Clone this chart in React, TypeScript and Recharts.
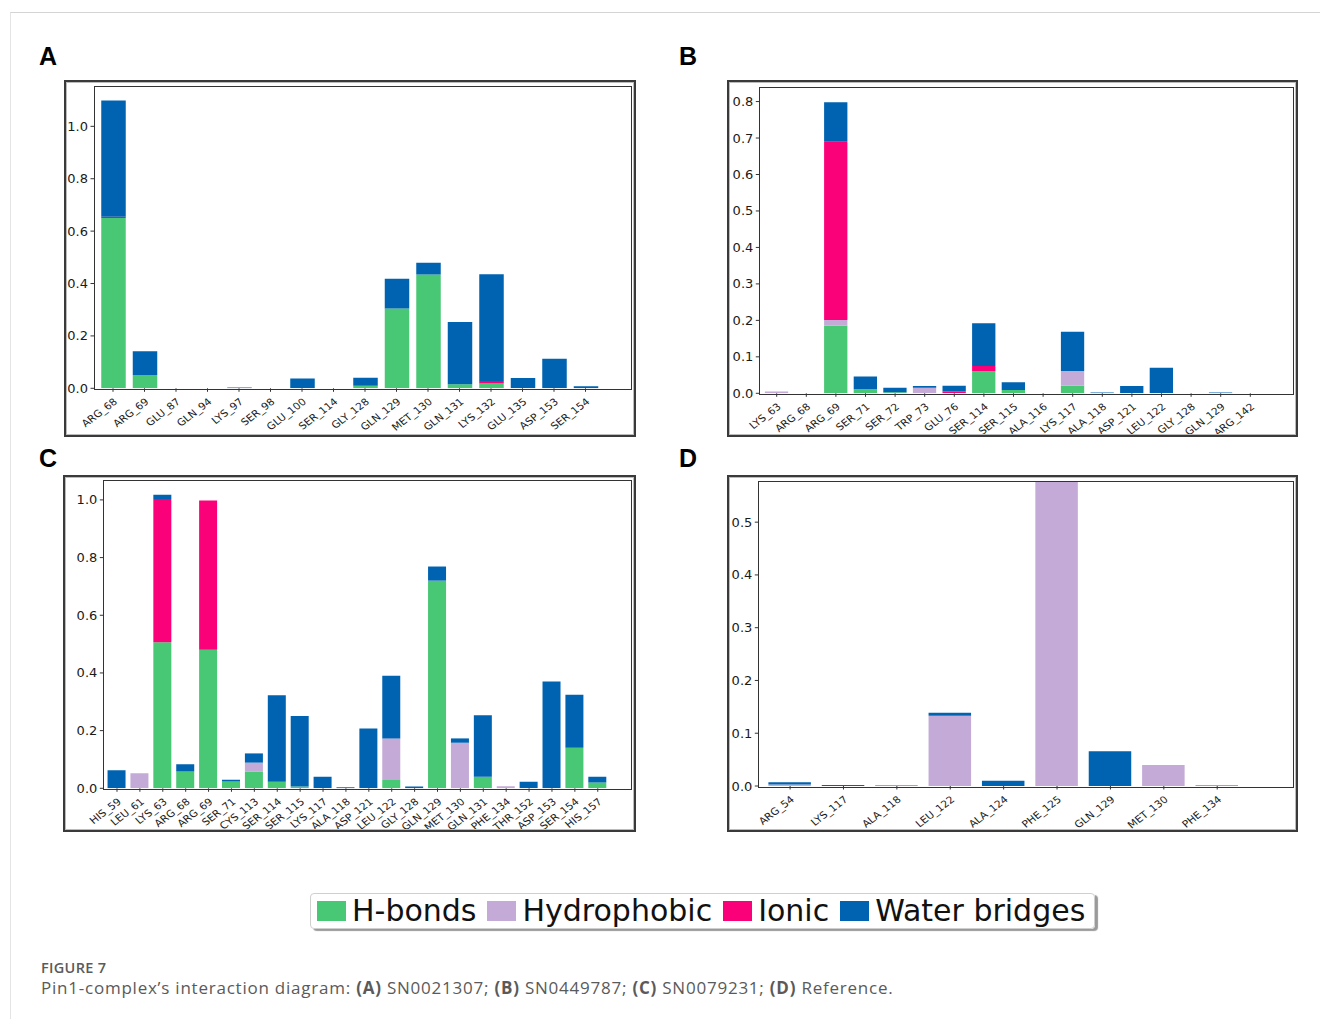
import { Bar, BarChart, XAxis, YAxis } from 'recharts'

const GREEN = '#48C774'
const LAVENDER = '#C4AAD6'
const PINK = '#FA0079'
const BLUE = '#0063B1'

// Panel A: SN0021307
const aLabels = ['ARG_68', 'ARG_69', 'GLU_87', 'GLN_94', 'LYS_97', 'SER_98', 'GLU_100', 'SER_114', 'GLY_128', 'GLN_129', 'MET_130', 'GLN_131', 'LYS_132', 'GLU_135', 'ASP_153', 'SER_154']
const aHBonds = [0.65, 0.051, 0, 0, 0, 0, 0, 0, 0.01, 0.305, 0.434, 0.015, 0.018, 0, 0, 0]
const aHydrophobic = [0, 0, 0, 0, 0, 0, 0, 0, 0, 0, 0, 0, 0, 0, 0, 0]
const aIonic = [0.005, 0, 0, 0, 0, 0, 0, 0, 0, 0, 0, 0, 0.01, 0, 0, 0]
const aWater = [0.444, 0.09, 0, 0, 0.003, 0, 0.037, 0, 0.03, 0.113, 0.045, 0.238, 0.407, 0.039, 0.113, 0.008]

// Panel B: SN0449787
const bLabels = ['LYS_63', 'ARG_68', 'ARG_69', 'SER_71', 'SER_72', 'TRP_73', 'GLU_76', 'SER_114', 'SER_115', 'ALA_116', 'LYS_117', 'ALA_118', 'ASP_121', 'LEU_122', 'GLY_128', 'GLN_129', 'ARG_142']
const bHBonds = [0, 0, 0.185, 0.012, 0.003, 0, 0, 0.061, 0.009, 0, 0.021, 0, 0, 0, 0, 0, 0]
const bHydrophobic = [0.005, 0, 0.016, 0, 0, 0.015, 0, 0, 0, 0, 0.04, 0, 0, 0, 0, 0, 0]
const bIonic = [0, 0, 0.489, 0, 0, 0, 0.005, 0.014, 0, 0, 0, 0, 0, 0, 0, 0, 0]
const bWater = [0, 0, 0.108, 0.034, 0.012, 0.005, 0.016, 0.117, 0.021, 0, 0.108, 0.002, 0.02, 0.07, 0, 0.002, 0]

// Panel C: SN0079231
const cLabels = ['HIS_59', 'LEU_61', 'LYS_63', 'ARG_68', 'ARG_69', 'SER_71', 'CYS_113', 'SER_114', 'SER_115', 'LYS_117', 'ALA_118', 'ASP_121', 'LEU_122', 'GLY_128', 'GLN_129', 'MET_130', 'GLN_131', 'PHE_134', 'THR_152', 'ASP_153', 'SER_154', 'HIS_157']
const cHBonds = [0, 0, 0.506, 0.058, 0.48, 0.024, 0.058, 0.023, 0.006, 0, 0, 0, 0.029, 0, 0.72, 0, 0.04, 0, 0, 0, 0.141, 0.02]
const cHydrophobic = [0, 0.052, 0, 0, 0, 0, 0.031, 0, 0, 0, 0, 0, 0.144, 0, 0, 0.158, 0, 0.007, 0, 0, 0, 0]
const cIonic = [0, 0, 0.497, 0, 0.518, 0, 0, 0, 0, 0, 0, 0, 0, 0, 0, 0, 0, 0, 0, 0, 0, 0]
const cWater = [0.063, 0, 0.015, 0.025, 0, 0.006, 0.032, 0.3, 0.245, 0.04, 0.004, 0.207, 0.217, 0.006, 0.049, 0.015, 0.213, 0, 0.023, 0.37, 0.183, 0.02]

// Panel D: Reference
const dLabels = ['ARG_54', 'LYS_117', 'ALA_118', 'LEU_122', 'ALA_124', 'PHE_125', 'GLN_129', 'MET_130', 'PHE_134']
const dHBonds = [0, 0, 0, 0, 0, 0, 0, 0, 0]
const dHydrophobic = [0.003, 0, 0, 0.133, 0, 0.578, 0, 0.04, 0]
const dIonic = [0, 0, 0, 0, 0, 0, 0, 0, 0]
const dWater = [0.004, 0.002, 0.001, 0.006, 0.01, 0, 0.066, 0, 0.001]

const ticksA = [0, 0.2, 0.4, 0.6, 0.8, 1.0]
const ticksB = [0, 0.1, 0.2, 0.3, 0.4, 0.5, 0.6, 0.7, 0.8]
const ticksC = [0, 0.2, 0.4, 0.6, 0.8, 1.0]
const ticksD = [0, 0.1, 0.2, 0.3, 0.4, 0.5]

const legendItems = [
  { name: 'H-bonds', color: GREEN },
  { name: 'Hydrophobic', color: LAVENDER },
  { name: 'Ionic', color: PINK },
  { name: 'Water bridges', color: BLUE },
]

const rows = (labels: string[], h: number[], hy: number[], io: number[], w: number[]) =>
  labels.map((name, i) => ({ name, hbonds: h[i], hydrophobic: hy[i], ionic: io[i], water: w[i] }))

type Box = { l: number; t: number; r: number; b: number }

interface PanelProps {
  letter: string
  letterPos: { x: number; y: number }
  data: ReturnType<typeof rows>
  frame: Box
  plot: Box
  yMax: number
  ticks: number[]
  padL: number
  padR: number
  barSize: number
}

const FONT = '"DejaVu Sans", sans-serif'

function XTick({ x, y, payload }: any) {
  return (
    <g transform={`translate(${x},${y})`}>
      <text transform="translate(5,11) scale(1.1,1) rotate(-40)" textAnchor="end" fontSize={9.8} fontFamily={FONT} fill="#1a1a1a">
        {payload.value}
      </text>
    </g>
  )
}

function YTick({ x, y, payload }: any) {
  return (
    <text x={x} y={y} dy={4.5} textAnchor="end" fontSize={13} fontFamily={FONT} fill="#1a1a1a">
      {Number(payload.value).toFixed(1)}
    </text>
  )
}

function Panel({ letter, letterPos, data, frame, plot, yMax, ticks, padL, padR, barSize }: PanelProps) {
  const width = frame.r - frame.l
  const height = frame.b - frame.t
  return (
    <>
      <div style={{ position: 'absolute', left: letterPos.x, top: letterPos.y, font: 'bold 25px "Liberation Sans", Arial, sans-serif', color: '#000' }}>
        {letter}
      </div>
      <div style={{ position: 'absolute', left: frame.l, top: frame.t }}>
        <BarChart
          width={width}
          height={height}
          data={data}
          margin={{ top: plot.t - frame.t, right: frame.r - plot.r, bottom: 0, left: 0 }}
          barGap={0}
        >
          <XAxis
            dataKey="name"
            interval={0}
            height={frame.b - plot.b}
            padding={{ left: padL, right: padR }}
            axisLine={false}
            tickLine={{ stroke: '#333' }}
            tickSize={3.5}
            tickMargin={0}
            tick={<XTick />}
          />
          <YAxis
            width={plot.l - frame.l}
            domain={[0, yMax]}
            ticks={ticks}
            allowDataOverflow
            axisLine={false}
            tickLine={{ stroke: '#333' }}
            tickSize={3.5}
            tickMargin={2.5}
            tick={<YTick />}
          />
          <Bar dataKey="hbonds" stackId="s" fill={GREEN} barSize={barSize} isAnimationActive={false} />
          <Bar dataKey="hydrophobic" stackId="s" fill={LAVENDER} barSize={barSize} isAnimationActive={false} />
          <Bar dataKey="ionic" stackId="s" fill={PINK} barSize={barSize} isAnimationActive={false} />
          <Bar dataKey="water" stackId="s" fill={BLUE} barSize={barSize} isAnimationActive={false} />
        </BarChart>
      </div>
      {/* axes box */}
      <div
        style={{
          position: 'absolute',
          left: plot.l - 0.5,
          top: plot.t - 0.5,
          width: plot.r - plot.l,
          height: plot.b - plot.t,
          border: '1px solid #333',
          pointerEvents: 'none',
        }}
      />
      {/* outer frame */}
      <div
        style={{
          position: 'absolute',
          left: frame.l,
          top: frame.t,
          width: width - 4,
          height: height - 4,
          border: '2px solid #3a3a3a',
          boxShadow: 'inset 0 0 0 1px #bbb',
          pointerEvents: 'none',
        }}
      />
    </>
  )
}

export default function App() {
  return (
    <div style={{ position: 'absolute', left: 0, top: 0, width: 1320, height: 1019, background: '#fff', overflow: 'hidden' }}>
      <div style={{ position: 'absolute', left: 10, top: 12, width: 1320, height: 1019, borderTop: '1px solid #d4d4d4', borderLeft: '1px solid #e4e4e4' }} />

      <Panel
        letter="A"
        letterPos={{ x: 39, y: 42 }}
        data={rows(aLabels, aHBonds, aHydrophobic, aIonic, aWater)}
        frame={{ l: 64, t: 80, r: 636, b: 437 }}
        plot={{ l: 94, t: 86, r: 630, b: 388.3 }}
        yMax={1.154}
        ticks={ticksA}
        padL={3.25}
        padR={28.75}
        barSize={24.5}
      />
      <Panel
        letter="B"
        letterPos={{ x: 679, y: 42 }}
        data={rows(bLabels, bHBonds, bHydrophobic, bIonic, bWater)}
        frame={{ l: 727, t: 80, r: 1298, b: 437 }}
        plot={{ l: 759.3, t: 87.7, r: 1292.7, b: 393.3 }}
        yMax={0.838}
        ticks={ticksB}
        padL={2.6}
        padR={27.6}
        barSize={23.3}
      />
      <Panel
        letter="C"
        letterPos={{ x: 39, y: 444 }}
        data={rows(cLabels, cHBonds, cHydrophobic, cIonic, cWater)}
        frame={{ l: 63, t: 475, r: 636, b: 832 }}
        plot={{ l: 103.3, t: 480, r: 630.7, b: 788.3 }}
        yMax={1.069}
        ticks={ticksC}
        padL={2.25}
        padR={21.5}
        barSize={18}
      />
      <Panel
        letter="D"
        letterPos={{ x: 679, y: 444 }}
        data={rows(dLabels, dHBonds, dHydrophobic, dIonic, dWater)}
        frame={{ l: 727, t: 475, r: 1298, b: 832 }}
        plot={{ l: 758.3, t: 481, r: 1292.7, b: 786 }}
        yMax={0.578}
        ticks={ticksD}
        padL={5.1}
        padR={48.8}
        barSize={42.5}
      />

      {/* legend */}
      <div
        style={{
          position: 'absolute',
          left: 310,
          top: 893,
          width: 785,
          height: 36,
          border: '1.5px solid #cfcfcf',
          borderRadius: 4,
          boxShadow: '3px 2px 1px #9a9a9a',
          display: 'flex',
          alignItems: 'center',
          boxSizing: 'border-box',
          paddingLeft: 6,
          fontFamily: FONT,
          fontSize: 30,
          color: '#111',
          whiteSpace: 'nowrap',
        }}
      >
        {legendItems.map((it) => (
          <div key={it.name} style={{ display: 'flex', alignItems: 'center', marginRight: 11 }}>
            <span style={{ display: 'inline-block', width: 29, height: 20, background: it.color, marginRight: 6 }} />
            <span style={{ lineHeight: '34px' }}>{it.name}</span>
          </div>
        ))}
      </div>

      {/* caption */}
      <div style={{ position: 'absolute', left: 41, top: 958, fontFamily: '"Open Sans", sans-serif', color: '#5a5a5a', whiteSpace: 'nowrap' }}>
        <div style={{ fontSize: 14.5, fontWeight: 600, lineHeight: '19px', letterSpacing: 0.3 }}>FIGURE 7</div>
        <div style={{ fontSize: 17, lineHeight: '22px', letterSpacing: 0.77 }}>
          Pin1-complex’s interaction diagram: <b>(A)</b> SN0021307; <b>(B)</b> SN0449787; <b>(C)</b> SN0079231; <b>(D)</b> Reference.
        </div>
      </div>
    </div>
  )
}
